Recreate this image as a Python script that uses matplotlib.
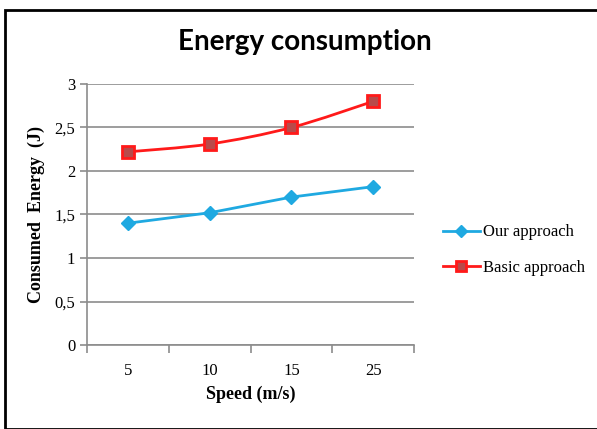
import matplotlib
matplotlib.use("Agg")
import matplotlib.pyplot as plt
from matplotlib.path import Path
from matplotlib.patches import PathPatch, Rectangle
from matplotlib.lines import Line2D
from matplotlib.ticker import FuncFormatter
import numpy as np

speeds = ['5', '10', '15', '25']
our_approach = [1.40, 1.52, 1.70, 1.82]
basic_approach = [2.22, 2.31, 2.50, 2.80]

blue = '#1fa9e1'
red = '#ff1a1a'
grid_col = '#8c8c8c'


def smooth_path(xs, ys):
    # excel-like smoothed line: cubic bezier through the points
    pts = np.column_stack([xs, ys])
    verts = [pts[0]]
    codes = [Path.MOVETO]
    n = len(pts)
    for i in range(n - 1):
        p0 = pts[i - 1] if i > 0 else pts[i]
        p1 = pts[i]
        p2 = pts[i + 1]
        p3 = pts[i + 2] if i + 2 < n else pts[i + 1]
        c1 = p1 + (p2 - p0) / 6.0
        c2 = p2 - (p3 - p1) / 6.0
        verts += [c1, c2, p2]
        codes += [Path.CURVE4] * 3
    return Path(verts, codes)


fig = plt.figure(figsize=(5.97, 4.29), dpi=100)
fig.patches.append(Rectangle((5 / 597, 0), 1.0, 1 - 10 / 429, transform=fig.transFigure,
                             fill=False, edgecolor='black', linewidth=2, clip_on=False))

ax = fig.add_axes([87 / 597, 1 - 345 / 429, (414 - 87) / 597, (345 - 84) / 429])
x = np.arange(len(speeds))

ax.plot(x, our_approach, color=blue, linewidth=2, marker='D', markersize=7,
        markerfacecolor=blue, markeredgecolor=blue, zorder=3)

ax.add_patch(PathPatch(smooth_path(x, basic_approach), facecolor='none',
                       edgecolor=red, linewidth=2, zorder=3))
ax.plot(x, basic_approach, linestyle='none', marker='s', markersize=8,
        markerfacecolor='#b84a4a', markeredgecolor=red, markeredgewidth=2, zorder=4)

ax.set_xlim(-0.5, 3.5)
ax.set_ylim(0, 3)
ax.set_yticks(np.arange(0, 3.01, 0.5))
ax.yaxis.set_major_formatter(FuncFormatter(lambda v, p: ('%g' % v).replace('.', ',')))
ax.grid(axis='y', color=grid_col, linewidth=1.2)
ax.set_axisbelow(True)

ax.set_xticks(np.arange(-0.5, 3.6, 1))
ax.set_xticklabels([])
ax.set_xticks(x, minor=True)
ax.set_xticklabels(speeds, minor=True)
ax.tick_params(axis='x', which='major', length=6, color=grid_col, width=1.2)
ax.tick_params(axis='x', which='minor', length=0, pad=13, labelsize=12)
ax.tick_params(axis='y', length=5, color=grid_col, width=1.2, labelsize=12)
for lab in ax.get_xticklabels(minor=True) + ax.get_yticklabels():
    lab.set_family('Liberation Serif')

for s in ['top', 'right']:
    ax.spines[s].set_visible(False)
for s in ['left', 'bottom']:
    ax.spines[s].set_color(grid_col)
    ax.spines[s].set_linewidth(1.2)

ax.set_xlabel('Speed (m/s)', family='Liberation Serif', fontweight='bold', fontsize=13, labelpad=5)
ax.set_ylabel('Consumed  Energy  (J)', family='Liberation Serif', fontweight='bold', fontsize=13, labelpad=7)

fig.text(305 / 597, 1 - 42 / 429, 'Energy consumption', ha='center', va='center',
         family='Lato', fontweight='bold', fontsize=20)

handles = [Line2D([], [], color=blue, linewidth=2, marker='D', markersize=6),
           Line2D([], [], color=red, linewidth=2, marker='s', markersize=7,
                  markerfacecolor='#b84a4a', markeredgecolor=red, markeredgewidth=2)]
fig.legend(handles, ['Our approach', 'Basic approach'], loc='center left',
           bbox_to_anchor=(428 / 597, 1 - 250 / 429), frameon=False,
           prop={'family': 'Liberation Serif', 'size': 12}, handlelength=2.2,
           handletextpad=0.2, labelspacing=1.15)

fig.savefig('out.png', dpi=100)
